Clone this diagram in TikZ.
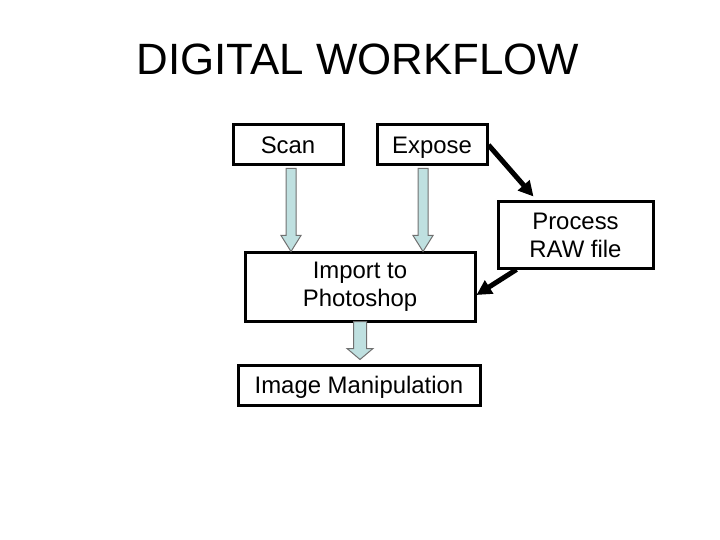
\documentclass[tikz,border=0pt]{standalone}
\usepackage{fontspec}
\setmainfont{Liberation Sans}
\usepackage{xcolor}
\usepackage{tikz}
\usetikzlibrary {positioning}
\usetikzlibrary{arrows.meta,calc}
\definecolor{arrowfill}{HTML}{BFE0E0}
\definecolor{arrowline}{HTML}{707070}
\tikzset{flow/.style = {->,> = {Triangle[length=15bp,width=15bp]},line width=5bp}}
\tikzset{fatarrow/.style = {fill=arrowfill,draw=arrowline,line width=1bp,line join=miter}}

% block arrow: start, tip, head length, shaft half width, head half width
\newcommand{\fatarrow}[5]{%
  \draw[fatarrow] ($(#1)+(-#4,0)$) -- ($(#1)+(#4,0)$) -- ($(#2)+(#4,-#3)$)
    -- ($(#2)+(#5,-#3)$) -- (#2) -- ($(#2)+(-#5,-#3)$) -- ($(#2)+(-#4,-#3)$) -- cycle;}

\begin{document}
\begin{tikzpicture}[x=1bp,y=-1bp,node distance=144bp,
    box/.style={draw,line width=3bp,inner sep=0pt,align=center,font=\fontsize{24}{28}\selectfont},
    oneline/.style={box,text height=19bp,text depth=2bp}]
            \useasboundingbox (0,0) rectangle (720,540);
            \node[font=\fontsize{44}{50}\selectfont] (title) at (358,59) {DIGITAL WORKFLOW};
            \node[oneline,minimum width=110bp,minimum height=40bp] (scan) at (288,145) {Scan};
            \node[oneline,minimum width=110bp,minimum height=40bp] (expose) [right of=scan] {Expose};
            \node[box,minimum width=155bp,minimum height=66bp] (process) at (575.5,235) {Process\\RAW file};
            \node[box,minimum width=230bp,minimum height=68bp] (import) at (360,287) {Import to\\Photoshop};
            \node[oneline,minimum width=242bp,minimum height=40bp] (manip) at (359,385) {Image Manipulation};
            % light blue arrows
            \coordinate (scanout) at ($(scan.south)+(3,2)$);
            \coordinate (exposeout) at ($(expose.south)+(-9,2)$);
            \coordinate (importout) at ($(import.south)+(0,-1)$);
            \fatarrow{scanout}{scanout |- import.north}{16}{5}{10}
            \fatarrow{exposeout}{exposeout |- import.north}{16}{5}{10}
            \fatarrow{importout}{$(importout |- manip.north)+(0,-4)$}{11}{6.5}{13}
            % black arrows
            \draw[flow] (expose.east) -- ($(process.north west)+(37,-4)$);
            \draw[flow] ($(process.south west)+(20,0)$) -- ($(import.east)+(0,8)$);
        \end{tikzpicture}
\end{document}
